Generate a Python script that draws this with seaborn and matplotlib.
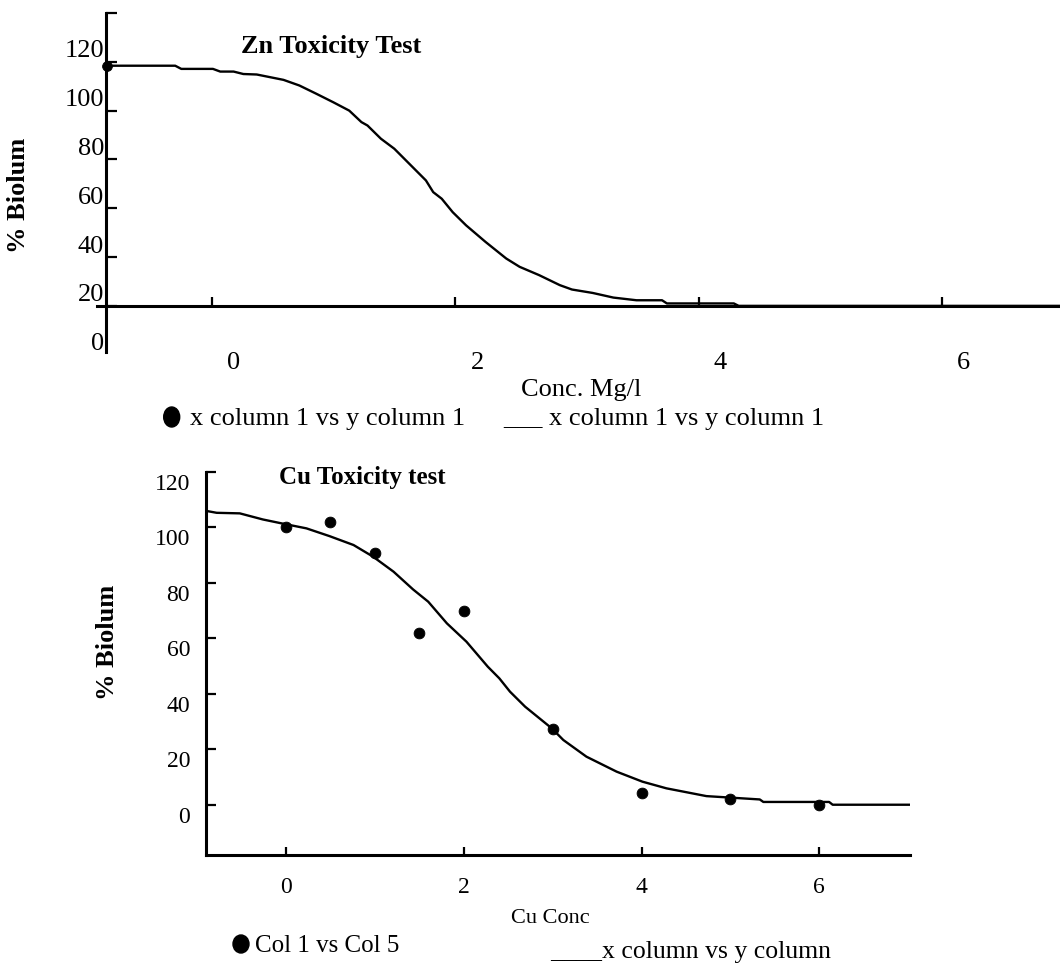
import matplotlib
matplotlib.use("Agg")
import matplotlib.pyplot as plt
import seaborn as sns
from matplotlib.patches import Ellipse

# ---------------- data ----------------
zn_point_x = [-0.86]
zn_point_y = [98.4]

zn_fit_x = [-0.866, -0.30, -0.25, 0.01, 0.07, 0.18, 0.26, 0.37, 0.48, 0.59, 0.72,
            0.86, 1.00, 1.13, 1.23, 1.28, 1.39, 1.50, 1.65, 1.76, 1.82, 1.89,
            1.98, 2.09, 2.25, 2.42, 2.53, 2.69, 2.86, 2.96, 3.13, 3.30, 3.49,
            3.70, 3.74, 4.29, 4.33, 6.97]
zn_fit_y = [98.4, 98.4, 97.1, 97.1, 96.0, 96.0, 95.0, 94.8, 93.7, 92.6, 90.3,
            86.9, 83.4, 80.0, 75.3, 73.9, 68.5, 64.4, 56.9, 51.4, 46.6, 43.9,
            38.4, 33.0, 26.2, 19.4, 16.0, 12.6, 8.5, 6.7, 5.3, 3.4, 2.3,
            2.3, 1.0, 1.0, 0.0, 0.0]

cu_conc = [0, 0.5, 1, 1.5, 2, 3, 4, 5, 6]
cu_biolum = [100.2, 101.8, 90.8, 61.8, 69.9, 27.2, 4.2, 2.0, 0.0]

cu_fit_x = [-0.90, -0.78, -0.52, -0.26, -0.02, 0.23, 0.49, 0.76, 0.98, 1.21,
            1.43, 1.60, 1.81, 2.03, 2.27, 2.40, 2.52, 2.69, 2.99, 3.12, 3.38,
            3.72, 4.01, 4.28, 4.73, 5.33, 5.37, 6.11, 6.15, 7.02]
cu_fit_y = [105.9, 105.2, 105.0, 102.8, 101.2, 99.6, 96.8, 93.6, 89.4, 84.0,
            77.6, 73.2, 65.4, 58.8, 49.8, 45.6, 40.8, 35.4, 27.6, 23.4, 17.4,
            12.0, 8.4, 6.0, 3.2, 2.0, 1.1, 1.1, 0.1, 0.1]

y_ticks = [0, 20, 40, 60, 80, 100, 120]
y_tick_labels = ["0", "20", "40", "60", "80", "100", "120"]
x_ticks = [0, 2, 4, 6]
x_tick_labels = ["0", "2", "4", "6"]

# ---------------- style ----------------
sns.set_style("white")
plt.rcParams['font.family'] = ['Liberation Serif', 'DejaVu Serif']
plt.rcParams['text.color'] = 'black'
plt.rcParams['axes.labelcolor'] = 'black'
plt.rcParams['xtick.color'] = 'black'
plt.rcParams['ytick.color'] = 'black'
plt.rcParams['xtick.labelcolor'] = 'black'
plt.rcParams['ytick.labelcolor'] = 'black'
plt.rcParams['axes.edgecolor'] = 'black'

W, H = 1060, 965
fig = plt.figure(figsize=(W / 100, H / 100), dpi=100)


def fx(px):
    return px / W


def fy(py):
    return 1 - py / H


SPINE_LW = 2.2
LINE_LW = 1.7

# ---------------- top panel: Zn ----------------
ax1 = fig.add_axes([fx(96.7), fy(352), fx(1060) - fx(96.7), fy(13) - fy(352)])
ax1.patch.set_alpha(0)
sns.lineplot(x=zn_fit_x, y=zn_fit_y, ax=ax1, color='black', linewidth=LINE_LW,
             estimator=None, sort=False)
sns.scatterplot(x=zn_point_x, y=zn_point_y, ax=ax1, color='black', s=50,
                marker='o', edgecolor='black', zorder=5, clip_on=False)
ax1.set_xlim(-0.945, 6.97)
ax1.set_ylim(-18.9, 120)
for s in ['top', 'right']:
    ax1.spines[s].set_visible(False)
ax1.spines['left'].set_position(('data', -0.866))
ax1.spines['bottom'].set_position(('data', 0))
for s in ['left', 'bottom']:
    ax1.spines[s].set_linewidth(SPINE_LW)
    ax1.spines[s].set_color('black')

# tick marks at the values, labels drawn slightly displaced (as in the original)
ax1.set_yticks(y_ticks)
ax1.set_yticks([v - 14.7 for v in y_ticks], labels=y_tick_labels, minor=True)
ax1.set_xticks(x_ticks)
ax1.set_xticks([v + 0.18 for v in x_ticks], labels=x_tick_labels, minor=True)
ax1.tick_params(axis='y', which='major', direction='in', length=8, width=1.6,
                color='black', labelleft=False, left=True)
ax1.tick_params(axis='y', which='minor', length=0, pad=1.5, labelsize=19,
                labelcolor='black', labelleft=True, left=True)
ax1.tick_params(axis='x', which='major', direction='in', length=6.5, width=1.6,
                color='black', labelbottom=False, bottom=True)
ax1.tick_params(axis='x', which='minor', length=0, pad=33.5, labelsize=19,
                labelcolor='black', labelbottom=True, bottom=True)

ax1.set_xlabel("Conc. Mg/l", fontsize=19, color='black')
ax1.xaxis.set_label_coords(fx(581), fy(396), transform=fig.transFigure)
ax1.xaxis.label.set_va('baseline')
ax1.set_ylabel("% Biolum", fontsize=19, fontweight='bold', color='black')
ax1.yaxis.set_label_coords(fx(19), fy(195), transform=fig.transFigure)
ax1.yaxis.label.set_va('center')
ax1.yaxis.label.set_ha('center')

fig.text(fx(331), fy(52.7), "Zn Toxicity Test", ha='center', va='baseline',
         fontsize=19, fontweight='bold', color='black')

# pseudo legend (top)
fig.add_artist(Ellipse((fx(171.7), fy(417)), 16 / W, 20 / H,
                       transform=fig.transFigure, color='black'))
fig.text(fx(190), fy(425), "x column 1 vs y column 1", ha='left', va='baseline',
         fontsize=19, color='black')
fig.text(fx(503), fy(425), "___ x column 1 vs y column 1", ha='left',
         va='baseline', fontsize=19, color='black')

# ---------------- bottom panel: Cu ----------------
ax2 = fig.add_axes([fx(206), fy(855), fx(910) - fx(206), fy(471.7) - fy(855)])
ax2.patch.set_alpha(0)
sns.lineplot(x=cu_fit_x, y=cu_fit_y, ax=ax2, color='black', linewidth=LINE_LW,
             estimator=None, sort=False)
sns.scatterplot(x=cu_conc, y=cu_biolum, ax=ax2, color='black', s=60,
                marker='o', edgecolor='black', zorder=5)
ax2.set_xlim(-0.9, 7.02)
ax2.set_ylim(-18.0, 120)
for s in ['top', 'right']:
    ax2.spines[s].set_visible(False)
for s in ['left', 'bottom']:
    ax2.spines[s].set_linewidth(SPINE_LW)
    ax2.spines[s].set_color('black')

ax2.set_yticks(y_ticks)
ax2.set_yticks([v - 3.6 for v in y_ticks], labels=y_tick_labels, minor=True)
ax2.set_xticks(x_ticks, labels=x_tick_labels)
ax2.tick_params(axis='y', which='major', direction='in', length=7, width=1.6,
                color='black', labelleft=False, left=True)
ax2.tick_params(axis='y', which='minor', length=0, pad=11.5, labelsize=17,
                labelcolor='black', labelleft=True, left=True)
ax2.tick_params(axis='x', which='major', direction='in', length=6, width=1.6,
                color='black', pad=16, labelsize=17, labelcolor='black',
                bottom=True)

ax2.set_xlabel("Cu Conc", fontsize=16, color='black')
ax2.xaxis.set_label_coords(fx(550), fy(923), transform=fig.transFigure)
ax2.xaxis.label.set_va('baseline')
ax2.set_ylabel("% Biolum", fontsize=19, fontweight='bold', color='black')
ax2.yaxis.set_label_coords(fx(108), fy(642), transform=fig.transFigure)
ax2.yaxis.label.set_va('center')
ax2.yaxis.label.set_ha('center')

fig.text(fx(362.5), fy(484), "Cu Toxicity test", ha='center', va='baseline',
         fontsize=18, fontweight='bold', color='black')

# pseudo legend (bottom)
fig.add_artist(Ellipse((fx(241), fy(944)), 16 / W, 18 / H,
                       transform=fig.transFigure, color='black'))
fig.text(fx(255), fy(951.7), "Col 1 vs Col 5", ha='left', va='baseline',
         fontsize=18, color='black')
fig.text(fx(550), fy(958), "____x column vs y column", ha='left', va='baseline',
         fontsize=18.5, color='black')

fig.savefig("out.png", dpi=100)
